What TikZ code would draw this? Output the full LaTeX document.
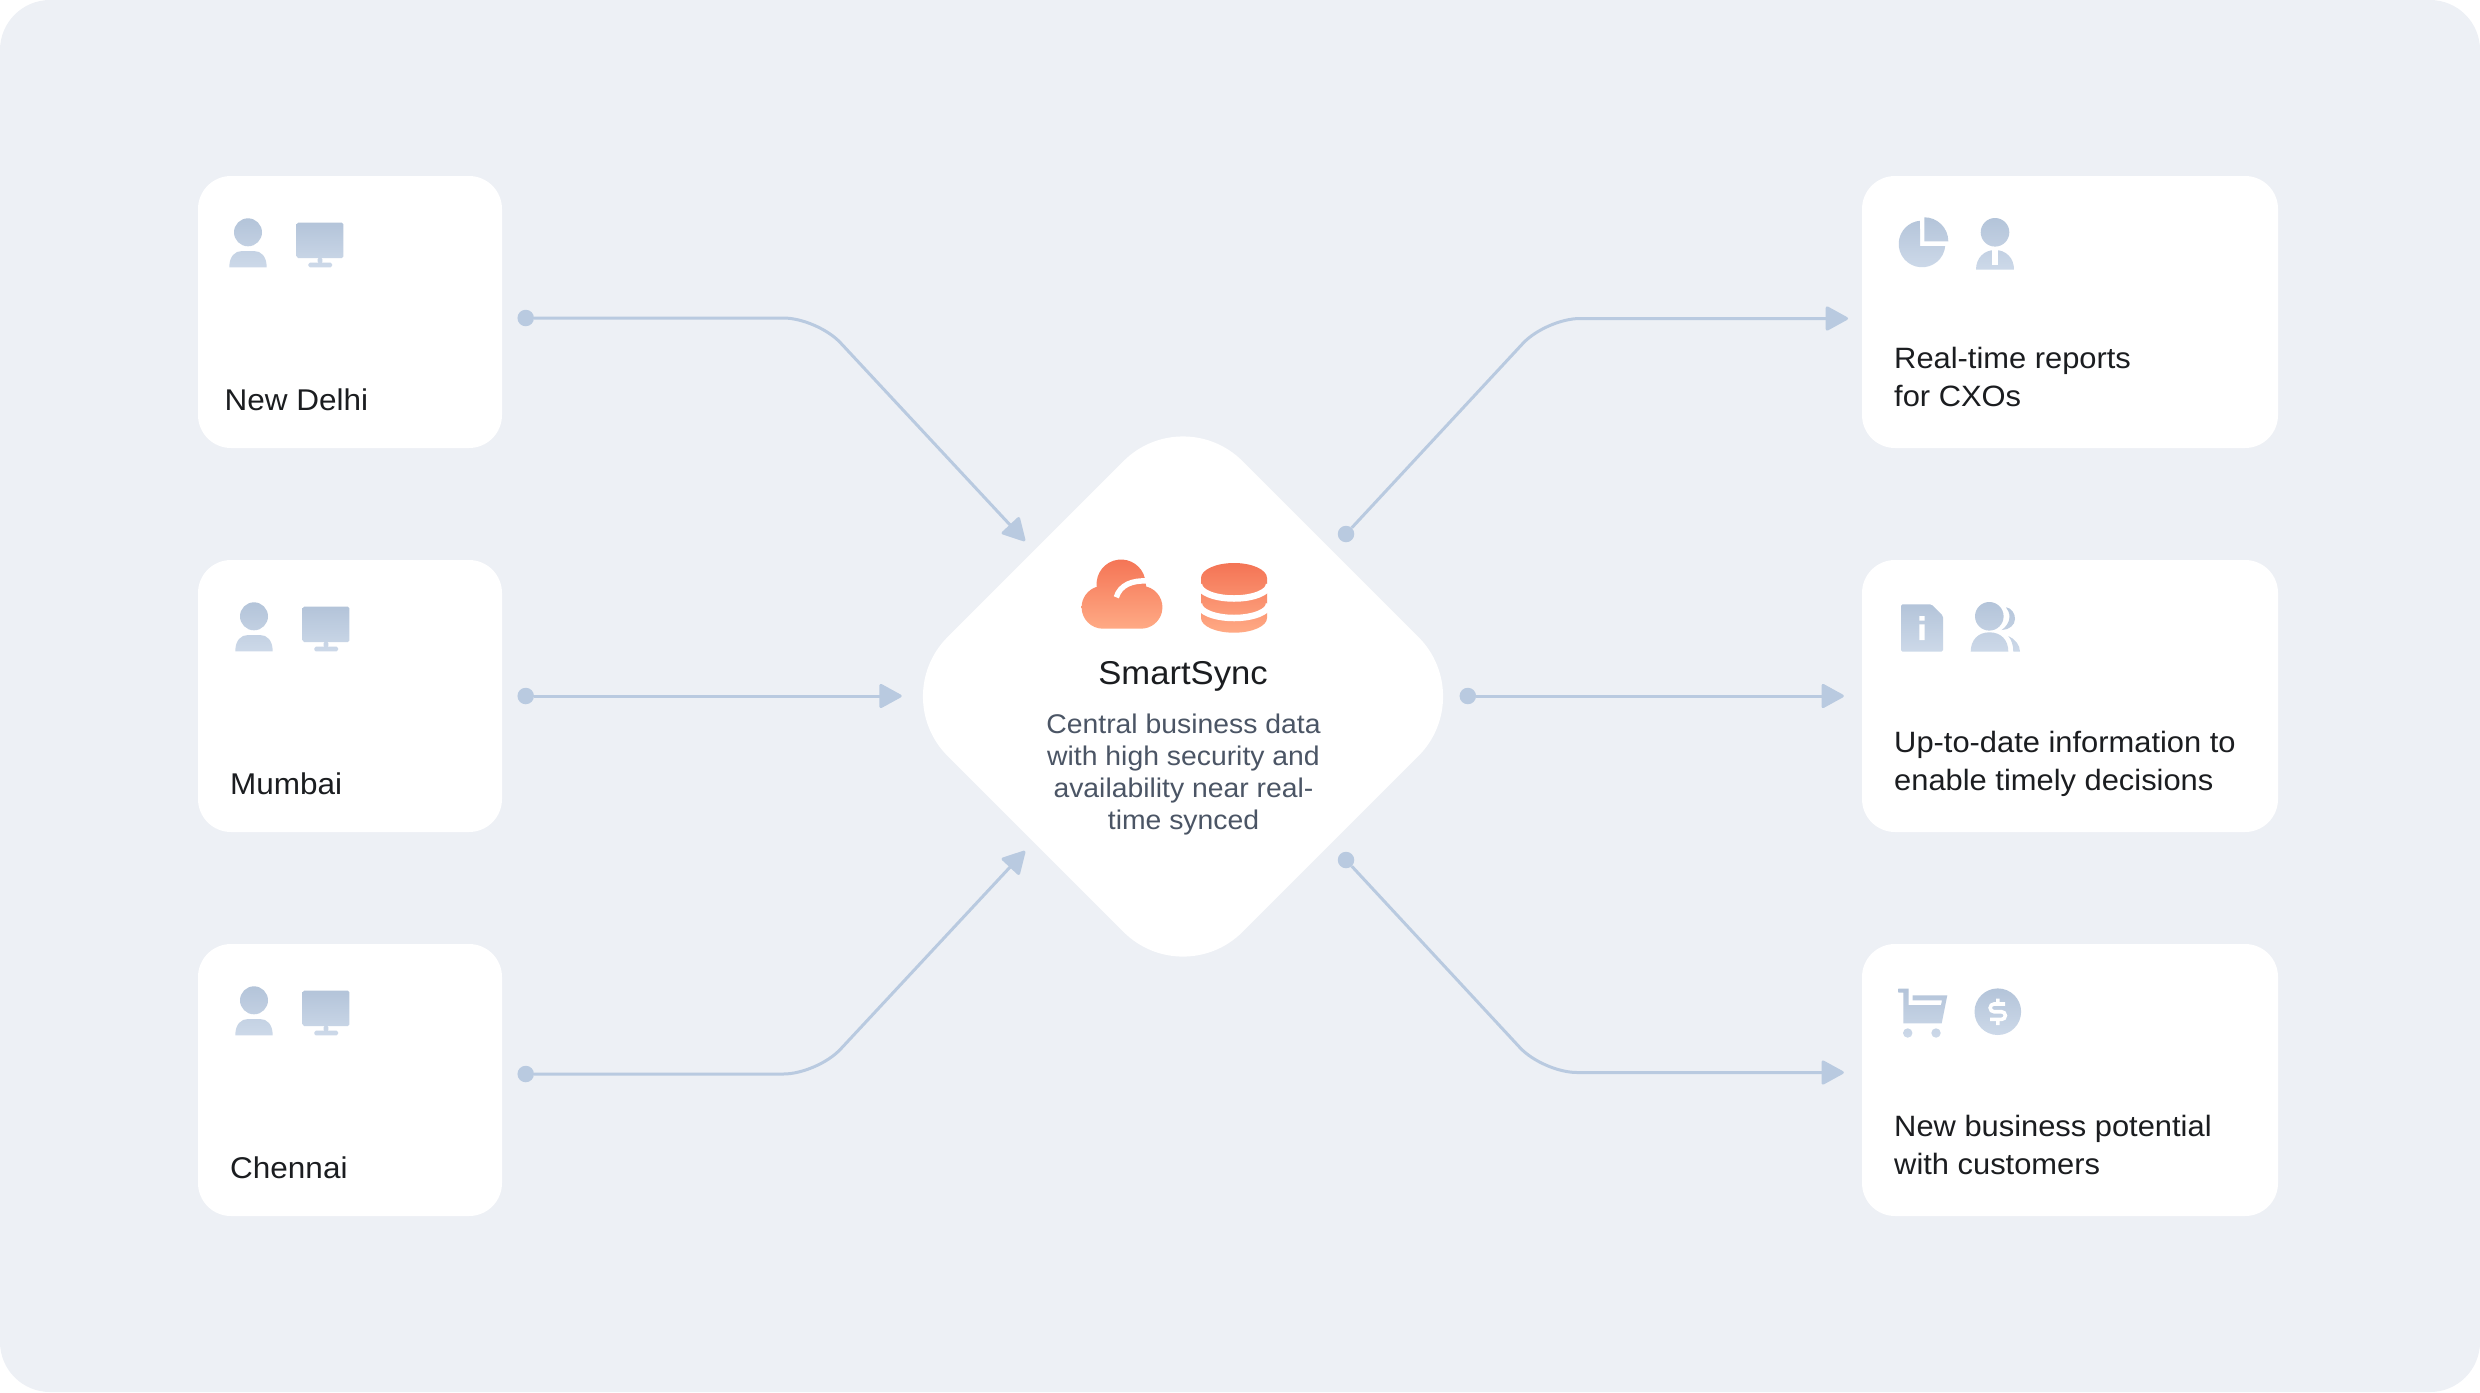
\documentclass[tikz,border=0pt]{standalone}
\usepackage{fontspec}
\setmainfont[FakeStretch=1.05]{Liberation Sans}
\usetikzlibrary{arrows.meta}
\definecolor{panel}{HTML}{EDF0F5}
\definecolor{wire}{HTML}{B9CAE0}
\definecolor{ink}{HTML}{1B1D20}
\definecolor{slate}{HTML}{4B5565}
\definecolor{coral}{HTML}{F47455}
\definecolor{peach}{HTML}{FFAA85}
\tikzset{
  card/.style={fill=white,rounded corners=33pt,minimum height=272pt,inner sep=0pt},
  cityname/.style={anchor=base west,inner sep=0pt,text=ink,font=\fontsize{30}{38}\selectfont},
  gainname/.style={anchor=base west,inner sep=0pt,text=ink,font=\fontsize{29.4}{38}\selectfont},
  hubtext/.style={inner sep=0pt,anchor=base,text=slate,font=\fontsize{27}{32}\selectfont},
  stub/.style={circle,fill=wire,minimum size=16.5pt,inner sep=0pt},
  link/.style={draw=wire,line width=3pt,rounded corners=34pt,-{Triangle[length=24pt,width=25.5pt,round,fill=wire]}},
  bluegrad/.style={top color=wire!97!black,bottom color=wire!72!white},
  redgrad/.style={top color=coral,bottom color=peach},
  personpic/.pic={
    \shade[bluegrad] (0,0) circle[radius=14]
      (-18.7,35) .. controls (-18.7,24) and (-13,18.7) .. (-6,18.7) -- (6,18.7)
      .. controls (13,18.7) and (18.7,24) .. (18.7,35) -- cycle;
  },
  screenpic/.pic={
    \shade[bluegrad,rounded corners=1.5pt] (0,0) rectangle (46.6,35.3)
      (21,35) rectangle (25.6,40.5) (11.6,40) rectangle (35.3,44.6);
  }
}
\begin{document}
\begin{tikzpicture}[x=1pt,y=-1pt]
\useasboundingbox (0,0) rectangle (2480,1392);
\fill[panel,rounded corners=50pt] (0,0) rectangle (2480,1392);

\node[card,minimum width=304pt] (Delhi) at (350,312) {};
\node[card,minimum width=304pt] (Mumbai) at (350,696) {};
\node[card,minimum width=304pt] (Chennai) at (350,1080) {};
\node[card,minimum width=416pt] (Reports) at (2070,312) {};
\node[card,minimum width=416pt] (Info) at (2070,696) {};
\node[card,minimum width=416pt] (Potential) at (2070,1080) {};
\node[fill=white,rounded corners=84pt,minimum size=417pt,inner sep=0pt,rotate=45] (Hub) at (1183,696.5) {};

\pic at (248,232.3) {personpic};
\pic at (296.7,222.7) {screenpic};
\pic at (254,616.3) {personpic};
\pic at (302.7,606.7) {screenpic};
\pic at (254,1000.3) {personpic};
\pic at (302.7,990.7) {screenpic};

\node[cityname] (tDelhi) at (224.5,410) {New Delhi};
\node[cityname] (tMumbai) at (230,794) {Mumbai};
\node[cityname] (tChennai) at (230,1178) {Chennai};
\node[gainname] (tReports) at (1894,368.5) {Real-time reports};
\node[gainname] (tReports2) at (1894,406.5) {for CXOs};
\node[gainname] (tInfo) at (1894,752.5) {Up-to-date information to};
\node[gainname] (tInfo2) at (1894,790.5) {enable timely decisions};
\node[gainname] (tPotential) at (1894,1136.5) {New business potential};
\node[gainname] (tPotential2) at (1894,1174.5) {with customers};

% pie and manager
\shade[bluegrad] (1945.2,246) arc (5:265:23.3) -- (1920,246) -- cycle
  (1924.3,217.3) arc (-90:0:24) -- (1924.3,241.3) -- cycle;
\shade[bluegrad] (1995,232.3) circle[radius=14.3]
  (1976,269.7) .. controls (1976,258) and (1984,250) .. (1995,250)
  .. controls (2006,250) and (2014,258) .. (2014,269.7) -- cycle;
\fill[white] (1992.3,248) rectangle (1997.7,265);

% info sheet and people
\shade[bluegrad,rounded corners=1.5pt] (1901,604.3) -- (1931.3,604.3) -- (1943,616) -- (1943,651.7) -- (1901,651.7) -- cycle;
\fill[white] (1919.3,616) rectangle (1924.7,620.7) (1919.3,624.3) rectangle (1924.7,640);
\shade[bluegrad] (1989.3,616.3) circle[radius=14.3]
  (1970.7,651.7) .. controls (1970.7,640) and (1978,632.3) .. (1989.5,632.3)
  .. controls (2001,632.3) and (2008.3,640) .. (2008.3,651.7) -- cycle
  (2006,607.3) .. controls (2012,608) and (2015,614) .. (2015,619)
  .. controls (2015,625) and (2009,630) .. (2001.7,630)
  .. controls (2006,627) and (2009.5,622) .. (2009.5,617)
  .. controls (2009.5,613) and (2008,610) .. (2006,607.3) -- cycle
  (2008.3,636) .. controls (2015,639) and (2020,645) .. (2020,651.7) -- (2013.3,651.7)
  .. controls (2013.3,645) and (2011.5,640) .. (2008.3,636) -- cycle;

% cart and coin
\shade[bluegrad] (1898.3,988.7) -- (1908.7,988.7) -- (1908.7,1005) -- (1941,1005) -- (1942,1000.3)
  -- (1912.7,1000.3) -- (1912.7,995.3) -- (1947.3,995.3) -- (1941.7,1023.3) -- (1903.3,1023.3)
  -- (1903.3,992.7) -- (1898.3,992.7) -- cycle
  (1907.7,1033) circle[radius=4.7] (1936,1033) circle[radius=4.7];
\shade[bluegrad] (1997.8,1011.7) circle[radius=23.3];
\draw[white,line width=3.6pt] (2005,1004) -- (1994,1004) arc (270:90:3.85) -- (2001.5,1011.7) arc (-90:90:3.85) -- (1990,1019.4)
  (1997.8,998.5) -- (1997.8,1004) (1997.8,1019.4) -- (1997.8,1025);

% hub
\shade[redgrad] (1103,628.7) arc (90:253:21.4) arc (173.4:346:24.5) -- (1146.2,586.5) arc (-76:90:21.4) -- cycle;
\draw[white,line width=5.5pt] (1116.3,597.3) .. controls (1120,585) and (1132,580) .. (1148,581);
\shade[redgrad] (1201,578) arc (180:360:33 and 15) -- (1267,618) arc (0:180:33 and 14.7) -- cycle;
\draw[white,line width=6.5pt] (1199,584.5) arc (180:0:35 and 14) (1199,604) arc (180:0:35 and 14);
\node[inner sep=0pt,anchor=base,text=ink,font=\fontsize{33}{38}\selectfont] (tHub) at (1183,684) {SmartSync};
\node[hubtext] (dHub1) at (1183.5,733.5) {Central business data};
\node[hubtext] (dHub2) at (1183.5,765.5) {with high security and};
\node[hubtext] (dHub3) at (1183.5,797.5) {availability near real-};
\node[hubtext] (dHub4) at (1183.5,829.5) {time synced};

% links
\node[stub] (sDelhi) at (525.7,318) {};
\node[stub] (sMumbai) at (525.7,696) {};
\node[stub] (sChennai) at (525.7,1074) {};
\node[stub] (sReports) at (1346,534) {};
\node[stub] (sInfo) at (1467.8,696) {};
\node[stub] (sPotential) at (1346,860) {};
\coordinate (bDelhi) at (817.4,318);
\coordinate (eDelhi) at (1025,541);
\coordinate (eMumbai) at (901.7,696);
\coordinate (bChennai) at (817.4,1074);
\coordinate (eChennai) at (1025,851);
\coordinate (bReports) at (1546,318.5);
\coordinate (eReports) at (1848,318.5);
\coordinate (eInfo) at (1843.8,696);
\coordinate (bPotential) at (1543,1072.5);
\coordinate (ePotential) at (1843.8,1072.5);
\draw[link] (sDelhi) -- (bDelhi) -- (eDelhi);
\draw[link] (sMumbai) -- (eMumbai);
\draw[link] (sChennai) -- (bChennai) -- (eChennai);
\draw[link] (sReports) -- (bReports) -- (eReports);
\draw[link] (sInfo) -- (eInfo);
\draw[link] (sPotential) -- (bPotential) -- (ePotential);
\end{tikzpicture}
\end{document}
